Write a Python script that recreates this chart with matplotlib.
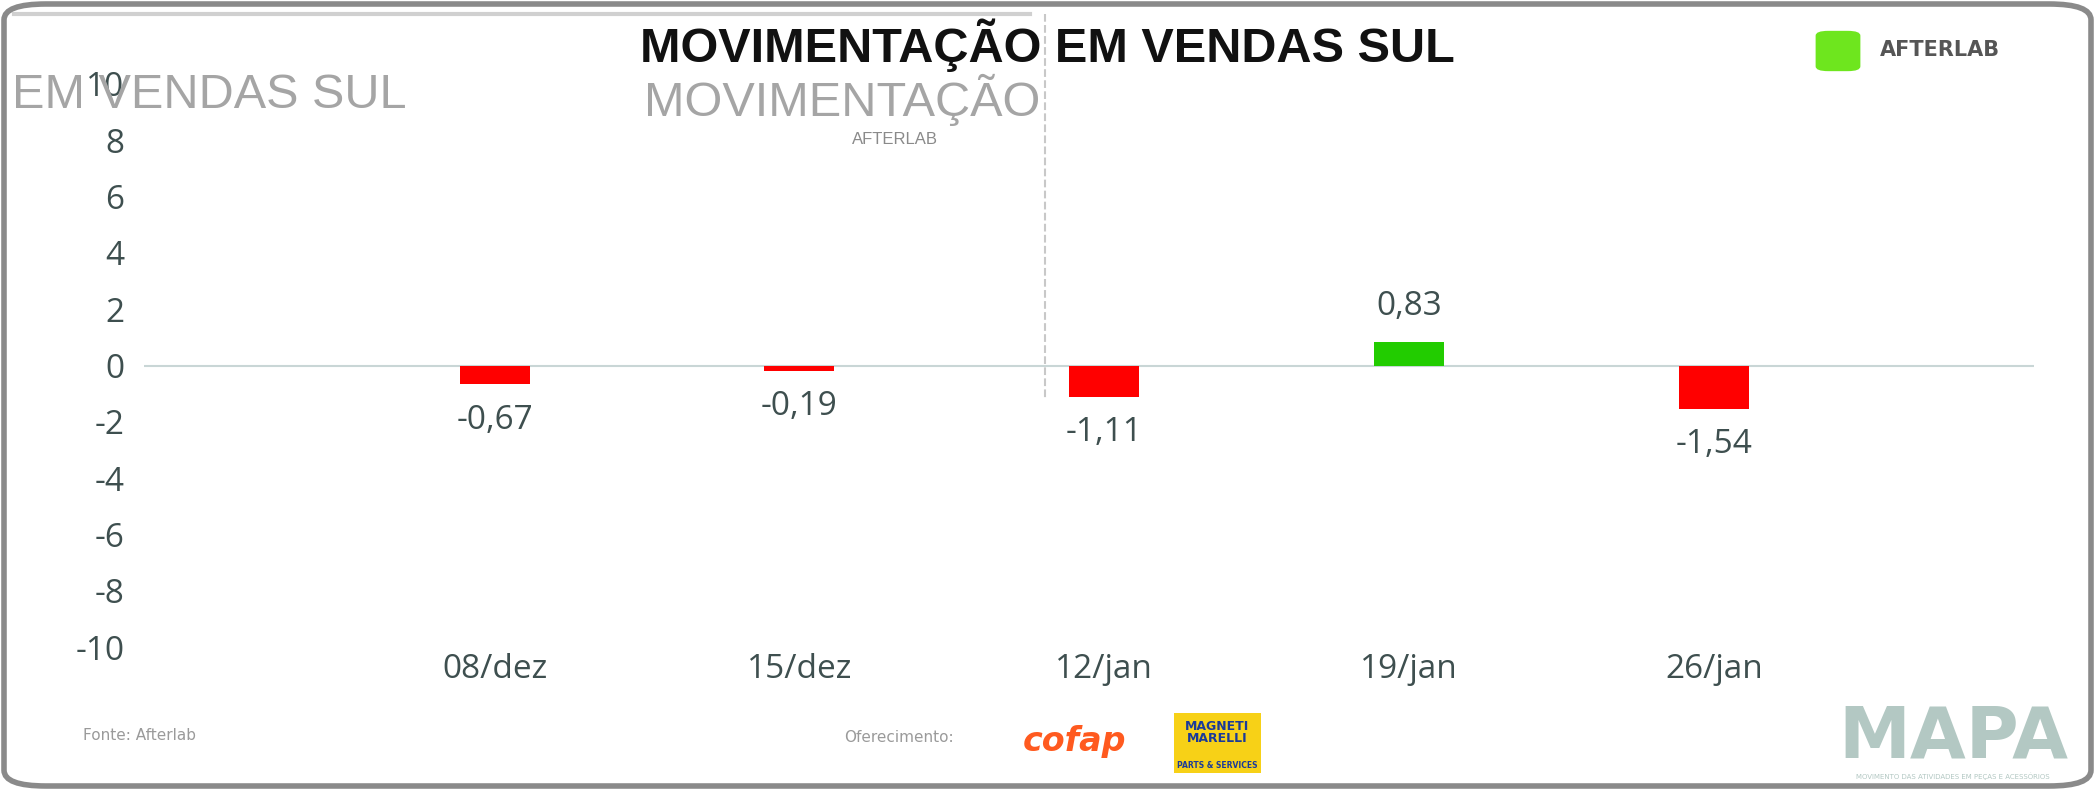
import matplotlib.pyplot as plt
from matplotlib.patches import FancyBboxPatch
from matplotlib.lines import Line2D

W, H = 2095, 790

semanas = ['08/dez', '15/dez', '12/jan', '19/jan', '26/jan']
variacao = [-0.67, -0.19, -1.11, 0.83, -1.54]
yticks = [-10, -8, -6, -4, -2, 0, 2, 4, 6, 8, 10]

TXT = '#3e4f4f'


def fx(px):
    return px / W


def fy(py):
    return 1 - py / H


fig = plt.figure(figsize=(W / 100, H / 100), dpi=100)
fig.patch.set_facecolor('white')

# moldura arredondada
frame = FancyBboxPatch((fx(4), fy(786)), fx(2087), 782 / H,
                       boxstyle='round,pad=0,rounding_size=0.02',
                       transform=fig.transFigure, fill=False,
                       edgecolor='#8a8a8a', linewidth=4)
fig.patches.append(frame)

# restos do titulo (fantasmas)
fig.text(fx(12), fy(96), 'EM VENDAS SUL', fontsize=35, color='#a5a5a5',
         family='Liberation Sans', va='center', ha='left')
fig.text(fx(644), fy(100), 'MOVIMENTAÇÃO', fontsize=35, color='#a5a5a5',
         family='Liberation Sans', va='center', ha='left')
fig.text(fx(895), fy(140), 'AFTERLAB', fontsize=12, color='#8a8a8a',
         family='Liberation Sans', va='center', ha='center')
fig.lines.append(Line2D([fx(1045), fx(1045)], [fy(14), fy(400)], transform=fig.transFigure,
                        color='#c8c8c8', linestyle='--', linewidth=1.5))
fig.lines.append(Line2D([fx(14), fx(1030)], [fy(14), fy(14)], transform=fig.transFigure,
                        color='#d0d0d0', linewidth=3))

# titulo
fig.text(fx(1047), fy(45), 'MOVIMENTAÇÃO EM VENDAS SUL', fontsize=35, fontweight='bold',
         color='#111111', family='Liberation Sans', ha='center', va='center')

# logo afterlab
logo = FancyBboxPatch((fx(1824), fy(68)), fx(28), 34 / H,
                      boxstyle='round,pad=0.004,rounding_size=0.006',
                      transform=fig.transFigure, facecolor='#6ee61e', edgecolor='none')
fig.patches.append(logo)
fig.text(fx(1880), fy(50), 'AFTERLAB', fontsize=15, fontweight='bold', color='#555555',
         ha='left', va='center')

ax = fig.add_axes([fx(144), fy(647), fx(2034 - 144), (647 - 84) / H])
x = list(range(len(semanas)))
cores = ['#22cc00' if v > 0 else '#ff0000' for v in variacao]
ax.bar(x, variacao, width=0.23, color=cores, zorder=3)
ax.axhline(0, color='#c9d6d6', linewidth=1.5, zorder=2)

for xi, v in zip(x, variacao):
    lab = f'{v:.2f}'.replace('.', ',')
    off = 26 if v > 0 else -26
    ax.annotate(lab, (xi, v), xytext=(0, off), textcoords='offset points',
                ha='center', va='center', fontsize=24, color=TXT, family='Open Sans')

ax.set_xlim(-1.15, 5.05)
ax.set_ylim(-10, 10)
ax.set_yticks(yticks)
ax.set_yticklabels([str(t) for t in yticks])
ax.set_xticks(x)
ax.set_xticklabels(semanas)
ax.tick_params(axis='both', length=0, labelsize=24, labelcolor=TXT)
ax.tick_params(axis='y', pad=14)
ax.tick_params(axis='x', pad=4)
for lbl in ax.get_xticklabels() + ax.get_yticklabels():
    lbl.set_family('Open Sans')
for s in ax.spines.values():
    s.set_visible(False)
ax.patch.set_alpha(0)

# rodape
fig.text(fx(83), fy(735), 'Fonte: Afterlab', fontsize=11, color='#9a9a9a', ha='left', va='center')
fig.text(fx(844), fy(738), 'Oferecimento:', fontsize=11, color='#9a9a9a', ha='left', va='center')
fig.text(fx(1075), fy(741), 'cofap', fontsize=24, fontweight='bold', style='italic',
         color='#ff5a1f', ha='center', va='center')
mm = FancyBboxPatch((fx(1174), fy(773)), fx(87), 60 / H, boxstyle='square,pad=0',
                    transform=fig.transFigure, facecolor='#f7d117', edgecolor='none')
fig.patches.append(mm)
fig.text(fx(1217), fy(733), 'MAGNETI\nMARELLI', fontsize=9, fontweight='bold', color='#1a3a9a',
         ha='center', va='center', linespacing=0.9)
fig.text(fx(1217), fy(765), 'PARTS & SERVICES', fontsize=5.5, fontweight='bold', color='#1a3a9a',
         ha='center', va='center')
fig.text(fx(1953), fy(738), 'MAPA', fontsize=52, fontweight='bold', color='#b3c8c3',
         ha='center', va='center')
fig.text(fx(1953), fy(776), 'MOVIMENTO DAS ATIVIDADES EM PEÇAS E ACESSÓRIOS', fontsize=5,
         color='#b3c8c3', ha='center', va='center')

fig.savefig('out.png', dpi=100)
